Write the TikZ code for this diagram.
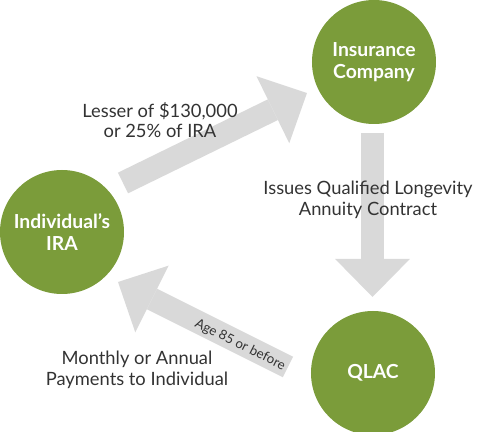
\documentclass[tikz,border=0pt]{standalone}
\usepackage{fontspec}
\setmainfont{Lato}
\usetikzlibrary{arrows.meta}

\definecolor{qgreen}{HTML}{7B9C3A}
\definecolor{qgrey}{HTML}{D9D9D9}
\definecolor{qtext}{HTML}{333333}

\begin{document}
\begin{tikzpicture}[x=0.75pt,y=0.75pt,yscale=-1,xscale=1,
    bubble/.style={circle,fill=qgreen,text=white,minimum size=93pt,inner sep=0pt,
        align=center,font=\fontsize{14.5}{16.5}\selectfont\bfseries},
    bigarrow/.style={draw=qgrey,line width=17.25pt,
        -{Triangle[length=28.5pt,width=56pt,line width=0pt,fill=qgrey]}},
    caption/.style={text=qtext,align=center,inner sep=0.75pt,
        font=\fontsize{13.75}{15.5}\selectfont}]
    \useasboundingbox (0,0) rectangle (480,432);

    % Circles
    \node (insco) at (374,62) [bubble] {Insurance\\Company};
    \node (qlac) at (373,373) [bubble] {QLAC};
    \node (ira) at (62,232) [bubble] {Individual's\\IRA};

    % Arrow ends
    \coordinate (upfrom) at (123,183);
    \coordinate (upto) at (307,93);
    \coordinate (downfrom) at (372.5,133);
    \coordinate (downto) at (372.5,297);
    \coordinate (backfrom) at (288,367);
    \coordinate (backto) at (118,282);

    % Arrows
    \draw [bigarrow] (upfrom) -- (upto);
    \draw [bigarrow] (downfrom) -- (downto);
    \draw [bigarrow] (backfrom) -- (backto);

    % Text Node
    \node (lesser) at (160,120) [caption] {Lesser of \$130,000\\or 25\% of IRA};
    % Text Node
    \node (issues) at (368,200) [caption] {Issues Qualified Longevity\\Annuity Contract};
    % Text Node
    \node (monthly) at (137,370) [caption] {Monthly or Annual\\Payments to Individual};
    % Text Node
    \node (age) at (240,345) [text=qtext,inner sep=0pt,rotate=-26.5,
        font=\fontsize{10}{11}\selectfont] {Age 85 or before};

\end{tikzpicture}
\end{document}
